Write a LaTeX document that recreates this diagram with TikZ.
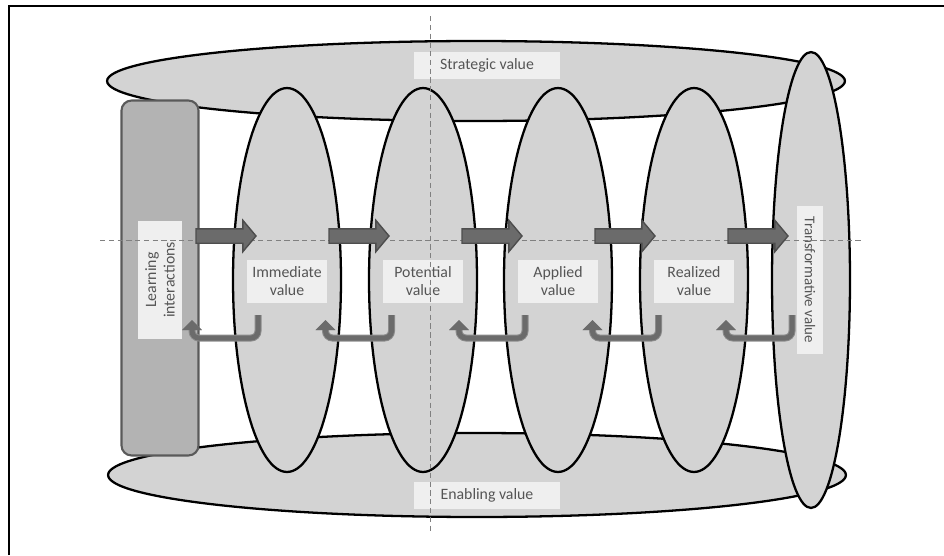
\documentclass[tikz,border=0pt]{standalone}
\usepackage{fontspec}
\setmainfont{Carlito}
\usetikzlibrary{shapes.geometric,shapes.arrows,arrows.meta}

\definecolor{ovalgray}{HTML}{D3D3D3}
\definecolor{sidegray}{HTML}{B3B3B3}
\definecolor{sideedge}{HTML}{5A5A5A}
\definecolor{boxgray}{HTML}{EFEFEF}
\definecolor{textgray}{HTML}{555555}
\definecolor{arrowgray}{HTML}{6B6B6B}
\definecolor{arrowedge}{HTML}{4D4D4D}
\definecolor{retedge}{HTML}{8C8C8C}

\begin{document}
\begin{tikzpicture}[x=0.02cm, y=-0.02cm,
    oval/.style={ellipse, draw=black, fill=ovalgray, line width=1.3pt, inner sep=0pt},
    valbox/.style={rectangle, fill=boxgray, text=textgray, font=\fontsize{9}{10.5}\selectfont, align=center, inner sep=0pt},
    fwd/.style={single arrow, draw=arrowedge, fill=arrowgray, line width=0.8pt, inner xsep=0pt, inner ysep=0.13cm, single arrow head extend=0.17cm, single arrow tip angle=100, minimum height=1.2cm},
    ret/.style={draw=arrowgray, line width=0.1cm, rounded corners=0.14cm, -{Triangle[length=0.2cm, width=0.38cm]}, preaction={draw=retedge, line width=0.14cm}},
    guide/.style={draw=gray, line width=0.4pt, dash pattern=on 3pt off 2pt}]

    \useasboundingbox (0,0) rectangle (944,555);

    % Frame
    \draw[line width=1.5pt] (9,555) -- (9,6) -- (944,6);

    % Strategic and enabling rings
    \node[oval, minimum width=14.76cm, minimum height=1.6cm] (strategic) at (476,81) {};
    \node[oval, minimum width=14.76cm, minimum height=1.68cm] (enabling) at (477,475) {};

    % Learning interactions block
    \node[rectangle, rounded corners=0.2cm, draw=sideedge, fill=sidegray, line width=1.2pt, minimum width=1.54cm, minimum height=7.1cm] (learning) at (160,278) {};

    % Draw the value ellipses
    \foreach \name/\x in {immediate/287, potential/423, applied/558, realized/694} {
        \node[oval, minimum width=2.16cm, minimum height=7.68cm] (\name) at (\x,280) {};
    }
    \node[oval, minimum width=1.56cm, minimum height=9.12cm] (transformative) at (811,280) {};

    % Labels
    \node[valbox, minimum width=2.94cm, minimum height=0.54cm] (strategiclbl) at (487,65) {Strategic value};
    \node[valbox, minimum width=2.94cm, minimum height=0.54cm] (enablinglbl) at (487,495) {Enabling value};
    \node[valbox, rotate=90, minimum width=2.36cm, minimum height=0.9cm] (learninglbl) at (160,280) {Learning\\interactions};
    \foreach \name/\txt in {immediate/Immediate, potential/Potential, applied/Applied, realized/Realized} {
        \node[valbox, minimum width=1.62cm, minimum height=0.86cm] (\name lbl) at ([yshift=-0.02cm]\name.center) {\txt\\value};
    }
    \node[valbox, rotate=-90, font=\fontsize{8.5}{10}\selectfont, minimum width=2.95cm, minimum height=0.52cm] (transformativelbl) at (810,280) {Transformative value};

    % Guide lines
    \coordinate (hleft) at (100,240);
    \coordinate (hright) at (863,240);
    \coordinate (vtop) at (430,16);
    \coordinate (vbottom) at (430,532);
    \draw[guide] (hleft) -- (hright);
    \draw[guide] (vtop) -- (vbottom);

    % Forward arrows between the stages
    \foreach \i in {1,...,5} {
        \pgfmathsetmacro{\xs}{193+133*(\i-1)}
        \node[fwd] (fwd\i) at (\xs+30,236) {};
    }

    % Return arrows back to the previous stage
    \foreach \i in {1,...,5} {
        \pgfmathsetmacro{\xv}{258+133.5*(\i-1)}
        \coordinate (back\i) at (\xv,315);
        \coordinate (tip\i) at (\xv-66,320);
        \draw[ret] (back\i) -- ++(0,23) -| (tip\i);
    }
\end{tikzpicture}
\end{document}
